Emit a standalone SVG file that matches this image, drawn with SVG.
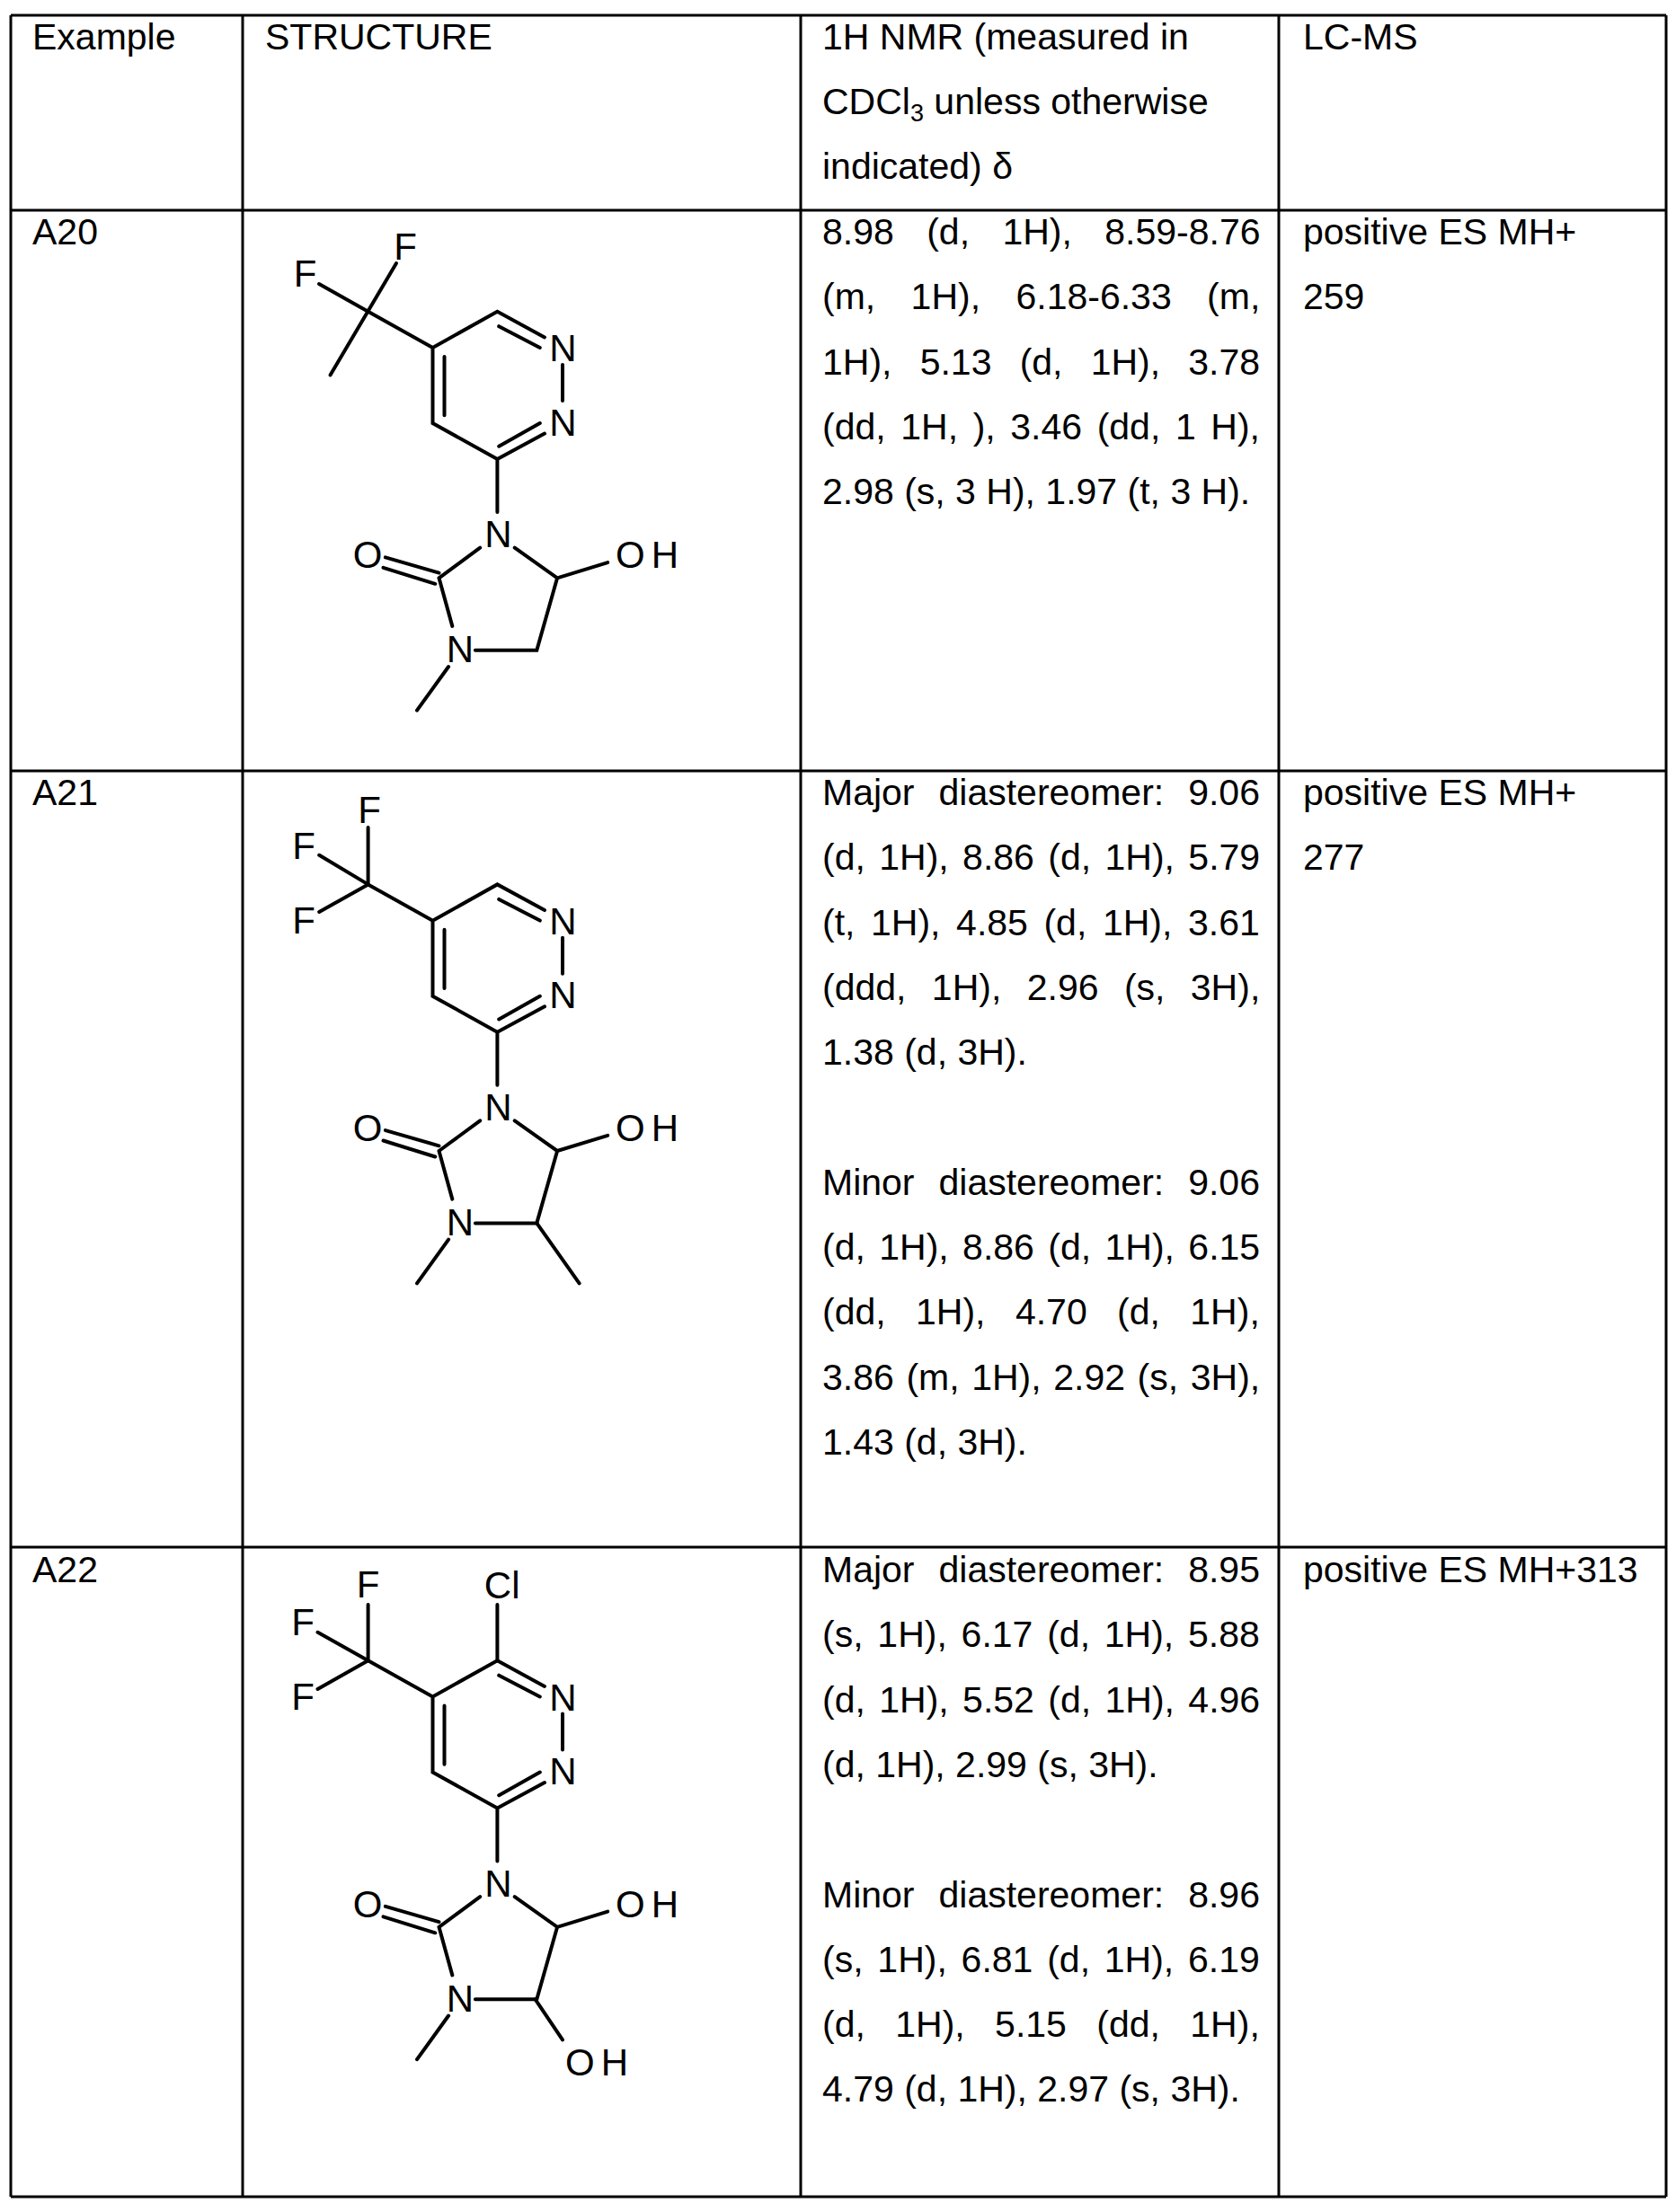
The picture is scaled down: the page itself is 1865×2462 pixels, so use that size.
<svg xmlns="http://www.w3.org/2000/svg" xmlns:xlink="http://www.w3.org/1999/xlink" width="1865" height="2462" viewBox="0 0 1865 2462">
<style>
.t{font-family:"Liberation Sans",Arial,sans-serif;font-size:41px;fill:#000}
.a{font-family:"Liberation Sans",Arial,sans-serif;font-size:42px;fill:#000;text-anchor:middle}
.oh{font-family:"Liberation Sans",Arial,sans-serif;font-size:42px;fill:#000;letter-spacing:7px}
.b{stroke:#000;stroke-width:4;stroke-linecap:round;fill:none}
.g{stroke:#000;stroke-width:3;fill:none}
</style>
<defs>
<g id="core">
<path class="b" d="M409.6,346.7L481.5,387L553.4,346.7L606,375.4M555.2,363.2L600.8,386.9M626,406L626,446M606,482.6L553.4,511L481.5,471L481.5,387M555.2,496.7L600.8,471.1M494.5,397L494.5,462.3M553.4,511L553.4,570M534.2,609.6L488.5,643.3M428.9,620.4L488.5,637.6M426.5,631.8L484.3,649.8M488.5,643.3L503.3,696.9M572.7,609.6L620.1,643.3L676.2,626.1M620.1,643.3L597.3,723.7L528.9,723.7M499.1,742L464,790.7"/>
<text class="a" x="626.5" y="402">N</text>
<text class="a" x="626.5" y="484.5">N</text>
<text class="a" x="554.5" y="609">N</text>
<text class="a" x="512" y="737">N</text>
<text class="a" x="409" y="632">O</text>
<text class="oh" x="685" y="632">OH</text>
</g>
</defs>
<g id="grid">
<path class="g" d="M12,17H1854M12,234H1854M12,858H1854M12,1722H1854M12,2445H1854M12,17V2445M270,17V2445M891,17V2445M1423,17V2445M1854,17V2445"/>
</g>
<g id="header">
<text class="t" x="36" y="55">Example</text>
<text class="t" x="295" y="55">STRUCTURE</text>
<text class="t" x="915" y="55">1H NMR (measured in</text>
<text class="t" x="915" y="127">CDCl<tspan font-size="27" dy="8">3</tspan><tspan dy="-8"> unless otherwise</tspan></text>
<text class="t" x="915" y="199">indicated) δ</text>
<text class="t" x="1450" y="55">LC-MS</text>
</g>
<g id="A20">
<text class="t" x="36" y="272">A20</text>
<g id="mol-A20">
<use xlink:href="#core"/>
<path class="b" d="M441,293L367.5,417.5M409.6,346.7L355,316"/>
<text class="a" x="451" y="289">F</text>
<text class="a" x="339.5" y="319">F</text>
</g>
<text class="t" x="915" y="272" word-spacing="25">8.98 (d, 1H), 8.59-8.76</text>
<text class="t" x="915" y="344.3" word-spacing="28">(m, 1H), 6.18-6.33 (m,</text>
<text class="t" x="915" y="416.6" word-spacing="19.8">1H), 5.13 (d, 1H), 3.78</text>
<text class="t" x="915" y="488.9" word-spacing="5.2">(dd, 1H, ), 3.46 (dd, 1 H),</text>
<text class="t" x="915" y="561.2">2.98 (s, 3 H), 1.97 (t, 3 H).</text>
<text class="t" x="1450" y="272">positive ES MH+</text>
<text class="t" x="1450" y="344.3">259</text>
</g>
<g id="A21">
<text class="t" x="36" y="896">A21</text>
<g id="mol-A21">
<use xlink:href="#core" transform="translate(0 637.7)"/>
<path class="b" d="M409.6,984.4L409.6,921M409.6,984.4L355.2,951.8M409.6,984.4L355.2,1015M597.3,1361.3L644.6,1428.3"/>
<text class="a" x="411" y="915.6">F</text>
<text class="a" x="338" y="955.8">F</text>
<text class="a" x="338" y="1038.8">F</text>
</g>
<text class="t" x="915" y="896" word-spacing="15.6">Major diastereomer: 9.06</text>
<text class="t" x="915" y="968.3" word-spacing="4">(d, 1H), 8.86 (d, 1H), 5.79</text>
<text class="t" x="915" y="1040.6" word-spacing="6.2">(t, 1H), 4.85 (d, 1H), 3.61</text>
<text class="t" x="915" y="1112.9" word-spacing="17">(ddd, 1H), 2.96 (s, 3H),</text>
<text class="t" x="915" y="1185.2">1.38 (d, 3H).</text>
<text class="t" x="915" y="1329.8" word-spacing="15.6">Minor diastereomer: 9.06</text>
<text class="t" x="915" y="1402.1" word-spacing="4">(d, 1H), 8.86 (d, 1H), 6.15</text>
<text class="t" x="915" y="1474.4" word-spacing="22">(dd, 1H), 4.70 (d, 1H),</text>
<text class="t" x="915" y="1546.7" word-spacing="2.2">3.86 (m, 1H), 2.92 (s, 3H),</text>
<text class="t" x="915" y="1619">1.43 (d, 3H).</text>
<text class="t" x="1450" y="896">positive ES MH+</text>
<text class="t" x="1450" y="968.3">277</text>
</g>
<g id="A22">
<text class="t" x="36" y="1761">A22</text>
<g id="mol-A22">
<use xlink:href="#core" transform="translate(0 1501.5)"/>
<path class="b" d="M409.6,1848.2L409.6,1786M409.6,1848.2L353.5,1816.8M409.6,1848.2L353.5,1880M553.4,1848.2L553.4,1786M595.5,2225.2L626,2270.3"/>
<text class="a" x="409.6" y="1778.3">F</text>
<text class="a" x="337" y="1819.6">F</text>
<text class="a" x="337" y="1902.6">F</text>
<text class="a" x="558.7" y="1779.4">Cl</text>
<text class="oh" x="629" y="2310">OH</text>
</g>
<text class="t" x="915" y="1761" word-spacing="15.6">Major diastereomer: 8.95</text>
<text class="t" x="915" y="1833.3" word-spacing="4.4">(s, 1H), 6.17 (d, 1H), 5.88</text>
<text class="t" x="915" y="1905.6" word-spacing="4">(d, 1H), 5.52 (d, 1H), 4.96</text>
<text class="t" x="915" y="1977.9">(d, 1H), 2.99 (s, 3H).</text>
<text class="t" x="915" y="2122.5" word-spacing="15.6">Minor diastereomer: 8.96</text>
<text class="t" x="915" y="2194.8" word-spacing="4.4">(s, 1H), 6.81 (d, 1H), 6.19</text>
<text class="t" x="915" y="2267.1" word-spacing="22">(d, 1H), 5.15 (dd, 1H),</text>
<text class="t" x="915" y="2339.4">4.79 (d, 1H), 2.97 (s, 3H).</text>
<text class="t" x="1450" y="1761">positive ES MH+313</text>
</g>
</svg>
